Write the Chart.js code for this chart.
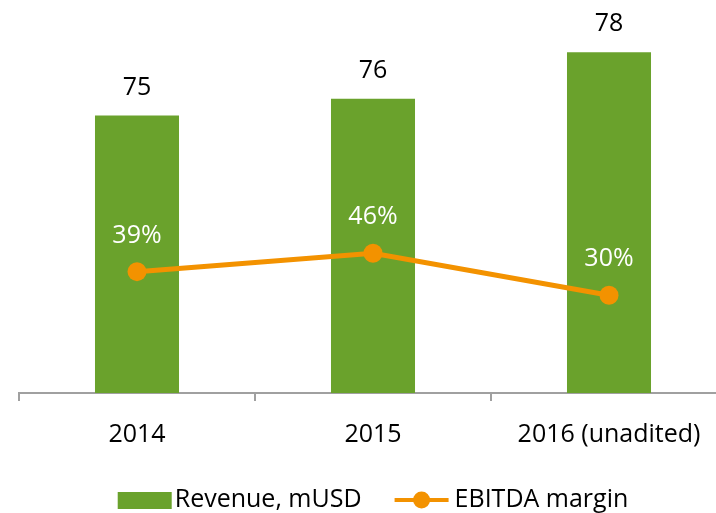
<!DOCTYPE html>
<html>
<head>
<meta charset="utf-8">
<script src="https://cdn.jsdelivr.net/npm/chart.js@4.4.1/dist/chart.umd.min.js"></script>
<style>
    html, body { margin: 0; padding: 0; background: #fff; overflow: hidden; }
    #wrap { width: 746px; height: 513px; }
</style>
</head>
<body>
<div id="wrap"><canvas id="chart"></canvas></div>
<script>
/* ── Дані ─────────────────────────────────────────────── */
const years       = ['2014', '2015', '2016 (unadited)'];
const revenue     = [74.9, 75.8, 78.3];   // mUSD, з висоти стовпчиків
const margin      = [39, 46, 30];         // EBITDA margin, %
const seriesNames = ['Revenue, mUSD', 'EBITDA margin'];

const GREEN  = '#6aa22c';
const ORANGE = '#f39200';
const FONT   = '"Open Sans", sans-serif';

/* ── Підписи значень ─────────────────────────────────── */
const valueLabels = {
    id: 'valueLabels',
    afterDatasetsDraw(chart) {
        const ctx = chart.ctx;
        ctx.save();
        ctx.font = '25px ' + FONT;
        ctx.textAlign = 'center';
        ctx.textBaseline = 'middle';

        ctx.fillStyle = '#000';
        chart.getDatasetMeta(0).data.forEach((bar, i) => {
            ctx.fillText(Math.round(revenue[i]), bar.x, bar.y - 28);
        });

        ctx.fillStyle = '#fff';
        chart.getDatasetMeta(1).data.forEach((pt, i) => {
            ctx.fillText(margin[i] + '%', pt.x, pt.y - 36);
        });
        ctx.restore();
    }
};

/* ── Легенда внизу ───────────────────────────────────── */
const bottomLegend = {
    id: 'bottomLegend',
    afterDraw(chart) {
        const ctx = chart.ctx;
        const y   = 500;
        const sym = 54;
        ctx.save();
        ctx.font = '25px ' + FONT;
        ctx.textBaseline = 'middle';

        const w1 = ctx.measureText(seriesNames[0]).width;
        const w2 = ctx.measureText(seriesNames[1]).width;
        const total = sym + 3 + w1 + 33 + sym + 6 + w2;
        let x = chart.width / 2 - total / 2;

        ctx.fillStyle = GREEN;
        ctx.fillRect(x, y - 8, sym, 17);
        x += sym + 3;
        ctx.fillStyle = '#000';
        ctx.fillText(seriesNames[0], x, y);
        x += w1 + 33;

        ctx.strokeStyle = ORANGE;
        ctx.lineWidth = 4;
        ctx.beginPath();
        ctx.moveTo(x, y);
        ctx.lineTo(x + sym, y);
        ctx.stroke();
        ctx.fillStyle = ORANGE;
        ctx.beginPath();
        ctx.arc(x + sym / 2, y, 8.5, 0, Math.PI * 2);
        ctx.fill();
        x += sym + 6;
        ctx.fillStyle = '#000';
        ctx.fillText(seriesNames[1], x, y);
        ctx.restore();
    }
};

new Chart(document.getElementById('chart'), {
    data: {
        labels: years,
        datasets: [
            {
                type: 'bar',
                label: seriesNames[0],
                data: revenue,
                backgroundColor: GREEN,
                yAxisID: 'y',
                order: 2,
                categoryPercentage: 1,
                barPercentage: 0.356
            },
            {
                type: 'line',
                label: seriesNames[1],
                data: margin,
                borderColor: ORANGE,
                backgroundColor: ORANGE,
                borderWidth: 5,
                pointRadius: 9.5,
                pointHoverRadius: 9.5,
                pointBorderWidth: 0,
                tension: 0,
                yAxisID: 'y2',
                order: 1
            }
        ]
    },
    options: {
        responsive: true,
        maintainAspectRatio: false,
        animation: false,
        layout: { padding: { left: 19, right: 19, top: 0, bottom: 60 } },
        plugins: {
            legend: { display: false },
            tooltip: { enabled: false }
        },
        scales: {
            x: {
                afterFit: s => { s.height = 60; },
                grid: {
                    drawOnChartArea: false,
                    color: '#a0a0a0',
                    lineWidth: 2,
                    tickLength: 8
                },
                border: { color: '#a0a0a0', width: 2 },
                ticks: {
                    color: '#000',
                    padding: 19,
                    font: { family: FONT, size: 25 }
                }
            },
            y: {
                display: false,
                min: 60,
                max: 80.6
            },
            y2: {
                display: false,
                min: -7.2,
                max: 138.8
            }
        }
    },
    plugins: [valueLabels, bottomLegend]
});
</script>
</body>
</html>
